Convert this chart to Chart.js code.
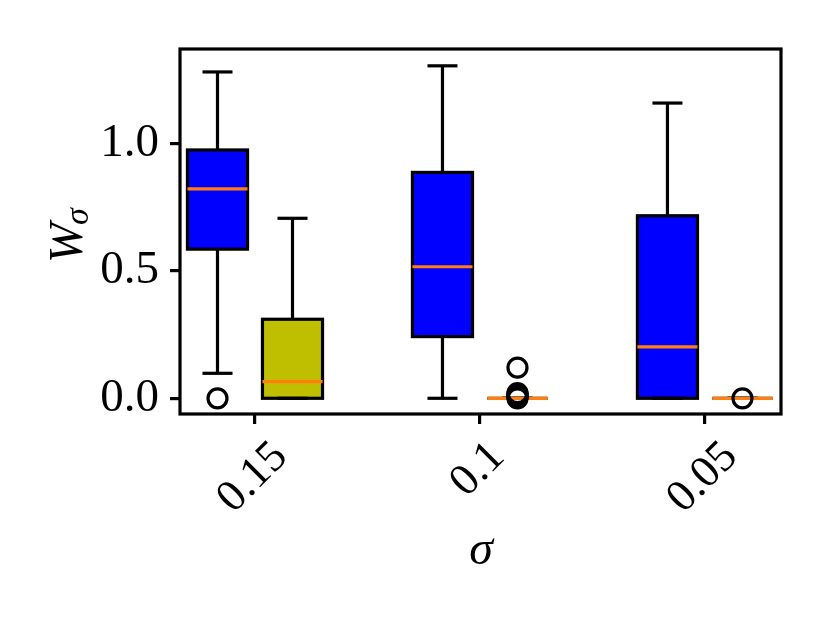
<!DOCTYPE html>
<html>
<head>
<meta charset="utf-8">
<script src="https://cdn.jsdelivr.net/npm/chart.js@4.4.1/dist/chart.umd.min.js"></script>
<style>
  html, body { margin: 0; padding: 0; background: #fff; }
  #wrap { width: 830px; height: 623px; }
</style>
</head>
<body>
<div id="wrap"><canvas id="chart" width="830" height="623"></canvas></div>
<script>
// sigma values on the x axis, and y ticks
const categories = ['0.15', '0.1', '0.05'];
const yTicks = [0, 0.5, 1.0];

// blue boxes (first series)
const blueLow = [0.098, 0.0, 0.0];
const blueQ1 = [0.585, 0.242, 0.0];
const blueMed = [0.821, 0.516, 0.202];
const blueQ3 = [0.974, 0.886, 0.716];
const blueHigh = [1.280, 1.304, 1.158];
const blueOut = [[0.0], [], []];

// olive boxes (second series)
const oliveLow = [0.0, 0.0, 0.0];
const oliveQ1 = [0.0, 0.0, 0.0];
const oliveMed = [0.065, 0.0, 0.0];
const oliveQ3 = [0.310, 0.0, 0.0];
const oliveHigh = [0.706, 0.0, 0.0];
const oliveOut = [[], [0.0, 0.004, 0.008, 0.012, 0.016, 0.02, 0.12], [0.0]];

const BOX_W = 0.267;
const OFFSET = 0.1667;
const LW = 3.2;
const SERIF = '"Liberation Serif", "DejaVu Serif", serif';

const groups = [
  { color: '#0000ff', off: -OFFSET, low: blueLow, q1: blueQ1, med: blueMed, q3: blueQ3, high: blueHigh },
  { color: '#bfbf00', off: OFFSET, low: oliveLow, q1: oliveQ1, med: oliveMed, q3: oliveQ3, high: oliveHigh },
];

function fliers(list, off) {
  return list.flatMap((vals, i) => vals.map(v => ({ x: i + off, y: v })));
}

function line(ctx, x1, y1, x2, y2) {
  ctx.beginPath();
  ctx.moveTo(x1, y1);
  ctx.lineTo(x2, y2);
  ctx.stroke();
}

const boxPlugin = {
  id: 'boxes',
  beforeDatasetsDraw(chart) {
    const { ctx, scales: { x, y } } = chart;
    ctx.save();
    ctx.lineWidth = LW;
    ctx.lineCap = 'butt';
    groups.forEach(g => {
      categories.forEach((_, i) => {
        const c = i + g.off;
        const xl = x.getPixelForValue(c - BOX_W / 2);
        const xr = x.getPixelForValue(c + BOX_W / 2);
        const xc = x.getPixelForValue(c);
        const cl = x.getPixelForValue(c - BOX_W / 4);
        const cr = x.getPixelForValue(c + BOX_W / 4);
        const yq1 = y.getPixelForValue(g.q1[i]);
        const yq3 = y.getPixelForValue(g.q3[i]);
        const ylo = y.getPixelForValue(g.low[i]);
        const yhi = y.getPixelForValue(g.high[i]);
        const ymd = y.getPixelForValue(g.med[i]);
        ctx.fillStyle = g.color;
        ctx.fillRect(xl, yq3, xr - xl, yq1 - yq3);
        ctx.strokeStyle = '#000';
        ctx.strokeRect(xl, yq3, xr - xl, yq1 - yq3);
        line(ctx, xc, yq1, xc, ylo);
        line(ctx, xc, yq3, xc, yhi);
        line(ctx, cl, ylo, cr, ylo);
        line(ctx, cl, yhi, cr, yhi);
        ctx.strokeStyle = '#ff7f0e';
        line(ctx, xl, ymd, xr, ymd);
      });
    });
    ctx.restore();
  },
  afterDraw(chart) {
    const { ctx, chartArea: a, scales: { x } } = chart;
    ctx.save();
    // frame
    ctx.strokeStyle = '#000';
    ctx.lineWidth = LW;
    ctx.strokeRect(a.left, a.top, a.right - a.left, a.bottom - a.top);

    // rotated x tick labels, centred under each tick
    const xs = 45;
    ctx.fillStyle = '#000';
    ctx.font = xs + 'px ' + SERIF;
    ctx.textAlign = 'center';
    ctx.textBaseline = 'middle';
    categories.forEach((lab, i) => {
      const w = ctx.measureText(lab).width;
      const px = x.getPixelForValue(i) - 2;
      const cy = 434 + (w + xs) / (2 * Math.SQRT2);
      ctx.save();
      ctx.translate(px, cy);
      ctx.rotate(-Math.PI / 4);
      ctx.fillText(lab, 0, 0);
      ctx.restore();
    });

    // x title
    ctx.font = 'italic 48px ' + SERIF;
    ctx.textBaseline = 'alphabetic';
    ctx.fillText('σ', 481, 564);

    // y title W_sigma
    ctx.save();
    ctx.translate(82, 263);
    ctx.rotate(-Math.PI / 2);
    ctx.textAlign = 'left';
    ctx.font = 'italic 48px ' + SERIF;
    const ww = ctx.measureText('W').width;
    ctx.fillText('W', 0, 0);
    ctx.font = 'italic 34px ' + SERIF;
    ctx.fillText('σ', ww - 2, 6);
    ctx.restore();
    ctx.restore();
  }
};

new Chart(document.getElementById('chart'), {
  type: 'scatter',
  data: {
    datasets: [
      { data: fliers(blueOut, -OFFSET) },
      { data: fliers(oliveOut, OFFSET) },
    ].map(d => Object.assign(d, {
      pointStyle: 'circle',
      pointRadius: 9.5,
      pointHoverRadius: 9.5,
      borderWidth: LW,
      borderColor: '#000',
      backgroundColor: 'rgba(0,0,0,0)',
    })),
  },
  options: {
    responsive: false,
    animation: false,
    layout: { padding: { top: 49, right: 49, left: 0, bottom: 0 } },
    plugins: { legend: { display: false }, tooltip: { enabled: false } },
    scales: {
      x: {
        type: 'linear',
        min: -1 / 3,
        max: 2.338,
        afterBuildTicks: s => { s.ticks = categories.map((_, i) => ({ value: i })); },
        afterFit: s => { s.height = 209; },
        ticks: { display: false },
        grid: { drawOnChartArea: false, drawTicks: true, tickLength: 10, color: '#000', lineWidth: LW },
        border: { display: false },
      },
      y: {
        min: -0.0616,
        max: 1.370,
        afterBuildTicks: s => { s.ticks = yTicks.map(v => ({ value: v })); },
        afterFit: s => { s.width = 180; },
        ticks: {
          callback: v => v.toFixed(1),
          font: { family: SERIF, size: 47 },
          color: '#000',
          padding: 11,
        },
        grid: { drawOnChartArea: false, drawTicks: true, tickLength: 10, color: '#000', lineWidth: LW },
        border: { display: false },
      },
    },
  },
  plugins: [boxPlugin],
});
</script>
</body>
</html>
